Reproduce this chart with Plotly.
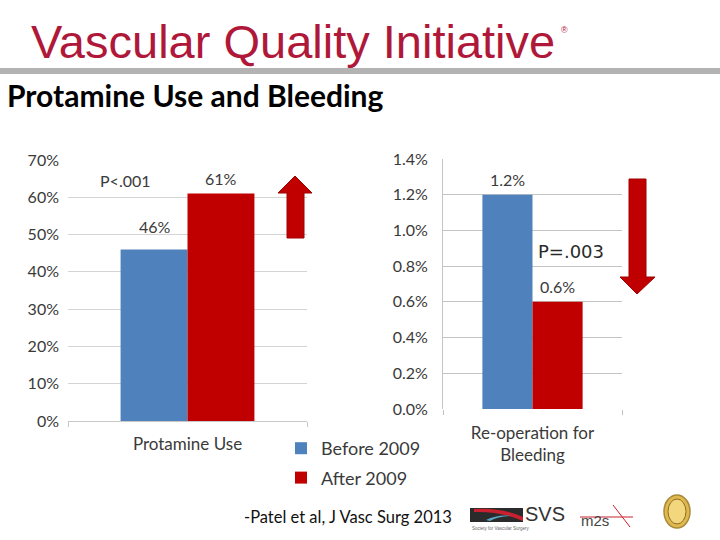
import plotly.graph_objects as go

# ---- data ----
series_names = ["Before 2009", "After 2009"]
series_colors = ["#4f81bd", "#c00000"]
left_category = ["Protamine Use"]
left_values = {"Before 2009": [0.46], "After 2009": [0.61]}
right_category = ["Re-operation for<br>Bleeding"]
right_values = {"Before 2009": [0.012], "After 2009": [0.006]}
left_ticks = [0, 0.1, 0.2, 0.3, 0.4, 0.5, 0.6, 0.7]
left_ticktext = ["0%", "10%", "20%", "30%", "40%", "50%", "60%", "70%"]
right_ticks = [0, 0.002, 0.004, 0.006, 0.008, 0.010, 0.012, 0.014]
right_ticktext = ["0.0%", "0.2%", "0.4%", "0.6%", "0.8%", "1.0%", "1.2%", "1.4%"]
left_labels = ["46%", "61%"]
right_labels = ["1.2%", "0.6%"]

W, H = 720, 540
def px(x):
    return x / W
def py(y):
    return (H - y) / H

FONT = "Lato, Open Sans, sans-serif"
TXT = "#3a3a3a"

fig = go.Figure()
for i, name in enumerate(series_names):
    fig.add_trace(go.Bar(
        x=left_category, y=left_values[name], name=name,
        marker=dict(color=series_colors[i], line=dict(width=0)),
        xaxis="x", yaxis="y", legendgroup=name, showlegend=True,
    ))
for i, name in enumerate(series_names):
    fig.add_trace(go.Bar(
        x=right_category, y=right_values[name], name=name,
        marker=dict(color=series_colors[i], line=dict(width=0)),
        xaxis="x2", yaxis="y2", legendgroup=name, showlegend=False,
    ))

def ann(x, y, text, size, color, family=FONT, xanchor="center"):
    return dict(x=px(x), y=py(y), xref="paper", yref="paper", text=text,
                showarrow=False, xanchor=xanchor, yanchor="middle",
                font=dict(family=family, size=size, color=color))

annotations = []
# data labels (placed from the values through the axes)
offs_l, lift_l = [-33, 33], [23, 15]
for i, name in enumerate(series_names):
    annotations.append(dict(
        x=left_category[0], y=left_values[name][0], xref="x", yref="y",
        text=left_labels[i], showarrow=False, xshift=offs_l[i], yshift=lift_l[i],
        xanchor="center", yanchor="middle",
        font=dict(family=FONT, size=16, color=TXT)))
offs_r, lift_r = [-25, 25], [15, 15]
for i, name in enumerate(series_names):
    annotations.append(dict(
        x=right_category[0], y=right_values[name][0], xref="x2", yref="y2",
        text=right_labels[i], showarrow=False, xshift=offs_r[i], yshift=lift_r[i],
        xanchor="center", yanchor="middle",
        font=dict(family=FONT, size=16, color=TXT)))

annotations += [
    ann(125, 180, "P<.001", 16, TXT),
    ann(571, 251, "P=.003", 18, "#2a2a2a", family="DejaVu Sans"),
    ann(29, 42, "Vascular Quality Initiative", 47, "#b0183a",
        family="Liberation Sans", xanchor="left"),
    ann(559, 30, "®", 9, "#b0183a", family="Liberation Sans", xanchor="left"),
    ann(5, 95, "<b>Protamine Use and Bleeding</b>", 30, "#000000", xanchor="left"),
    ann(242, 517, "-Patel et al, J Vasc Surg 2013", 16.5, "#111111", xanchor="left"),
    ann(523, 514, "SVS", 20, "#333333",
        family="Liberation Sans Narrow, Liberation Sans", xanchor="left"),
    ann(470, 528, "Society for Vascular Surgery", 4.5, "#666666",
        family="Liberation Sans", xanchor="left"),
    ann(579, 520, "m2s", 15, "#444444", family="Liberation Sans", xanchor="left"),
]

shapes = [
    # grey rule under header
    dict(type="rect", xref="paper", yref="paper", x0=0, x1=1, y0=py(74), y1=py(68),
         fillcolor="#b3b3b3", line=dict(width=0), layer="below"),
    # up arrow
    dict(type="path", xref="paper", yref="paper",
         path=f"M {px(287)},{py(238)} L {px(287)},{py(193)} L {px(278)},{py(193)} "
              f"L {px(295)},{py(176)} L {px(312)},{py(193)} L {px(304)},{py(193)} "
              f"L {px(304)},{py(238)} Z",
         fillcolor="#c00000", line=dict(width=1, color="#a00000")),
    # down arrow
    dict(type="path", xref="paper", yref="paper",
         path=f"M {px(629)},{py(179)} L {px(629)},{py(277)} L {px(620)},{py(277)} "
              f"L {px(637)},{py(294)} L {px(655)},{py(277)} L {px(646)},{py(277)} "
              f"L {px(646)},{py(179)} Z",
         fillcolor="#c00000", line=dict(width=1, color="#a00000")),
    # SVS logo block
    dict(type="path", xref="paper", yref="paper",
         path=f"M {px(470)},{py(508)} L {px(523)},{py(508)} L {px(523)},{py(522)} L {px(470)},{py(522)} Z",
         fillcolor="#2b2b2b", line=dict(width=0)),
    dict(type="path", xref="paper", yref="paper",
         path=f"M {px(474)},{py(509)} Q {px(500)},{py(507)} {px(523)},{py(517)} L {px(523)},{py(521)} Q {px(500)},{py(511)} {px(474)},{py(512)} Z",
         fillcolor="#c8202e", line=dict(width=0)),
    dict(type="path", xref="paper", yref="paper",
         path=f"M {px(486)},{py(520)} Q {px(498)},{py(514)} {px(512)},{py(516)} Q {px(498)},{py(516)} {px(490)},{py(521)} Z",
         fillcolor="#5aa8c8", line=dict(width=0)),
    # m2s red strokes
    dict(type="line", xref="paper", yref="paper", x0=px(613), y0=py(505), x1=px(630), y1=py(527),
         line=dict(color="#c8202e", width=1)),
    dict(type="line", xref="paper", yref="paper", x0=px(580), y0=py(517), x1=px(633), y1=py(517),
         line=dict(color="#c8202e", width=1)),
    # seal
    dict(type="circle", xref="paper", yref="paper", x0=px(664), x1=px(690), y0=py(528), y1=py(495),
         fillcolor="#e0b84e", line=dict(color="#a88a3a", width=1.5)),
    dict(type="circle", xref="paper", yref="paper", x0=px(668), x1=px(686), y0=py(524), y1=py(499),
         fillcolor="#f2d77c", line=dict(color="#8a6d25", width=1)),
]

fig.update_layout(
    width=W, height=H,
    margin=dict(l=0, r=0, t=0, b=0, pad=0, autoexpand=False),
    paper_bgcolor="white", plot_bgcolor="white",
    barmode="group", bargap=0.44, bargroupgap=0,
    font=dict(family=FONT, size=16, color=TXT),
    xaxis=dict(domain=[px(68), px(307)], anchor="y", showgrid=False, automargin=False,
               showline=True, linecolor="#c8c8c8", linewidth=1,
               ticks="outside", tickson="boundaries", ticklen=5, tickcolor="#c8c8c8",
               ticklabelstandoff=8, tickfont=dict(family=FONT, size=17, color=TXT)),
    yaxis=dict(domain=[py(421), py(160)], anchor="x", range=[0, 0.7], automargin=False,
               tickvals=left_ticks, ticktext=left_ticktext,
               showgrid=True, gridcolor="#d4d4d4", gridwidth=1,
               zeroline=False, showline=False, ticks="",
               ticklabelstandoff=8, tickfont=dict(family=FONT, size=16, color=TXT)),
    xaxis2=dict(domain=[px(443), px(622)], anchor="y2", showgrid=False, automargin=False,
                showline=False, ticks="outside", tickson="boundaries", ticklen=5,
                tickcolor="#c0c0c0", ticklabelstandoff=12,
                tickfont=dict(family=FONT, size=17, color=TXT)),
    yaxis2=dict(domain=[py(409), py(159)], anchor="x2", range=[0, 0.014], automargin=False,
                tickvals=right_ticks, ticktext=right_ticktext,
                showgrid=True, gridcolor="#c4c4c4", gridwidth=1,
                zeroline=True, zerolinecolor="rgba(0,0,0,0)",
                showline=True, linecolor="#c4c4c4", linewidth=1, ticks="",
                ticklabelstandoff=11, tickfont=dict(family=FONT, size=16, color=TXT)),
    legend=dict(x=px(281), y=py(430), xanchor="left", yanchor="top",
                traceorder="grouped", tracegroupgap=3,
                font=dict(family=FONT, size=18, color=TXT),
                bgcolor="rgba(0,0,0,0)"),
    annotations=annotations,
    shapes=shapes,
)

fig.write_html("out.html", config={"displayModeBar": False},
               post_script="document.body.style.margin='0';")
